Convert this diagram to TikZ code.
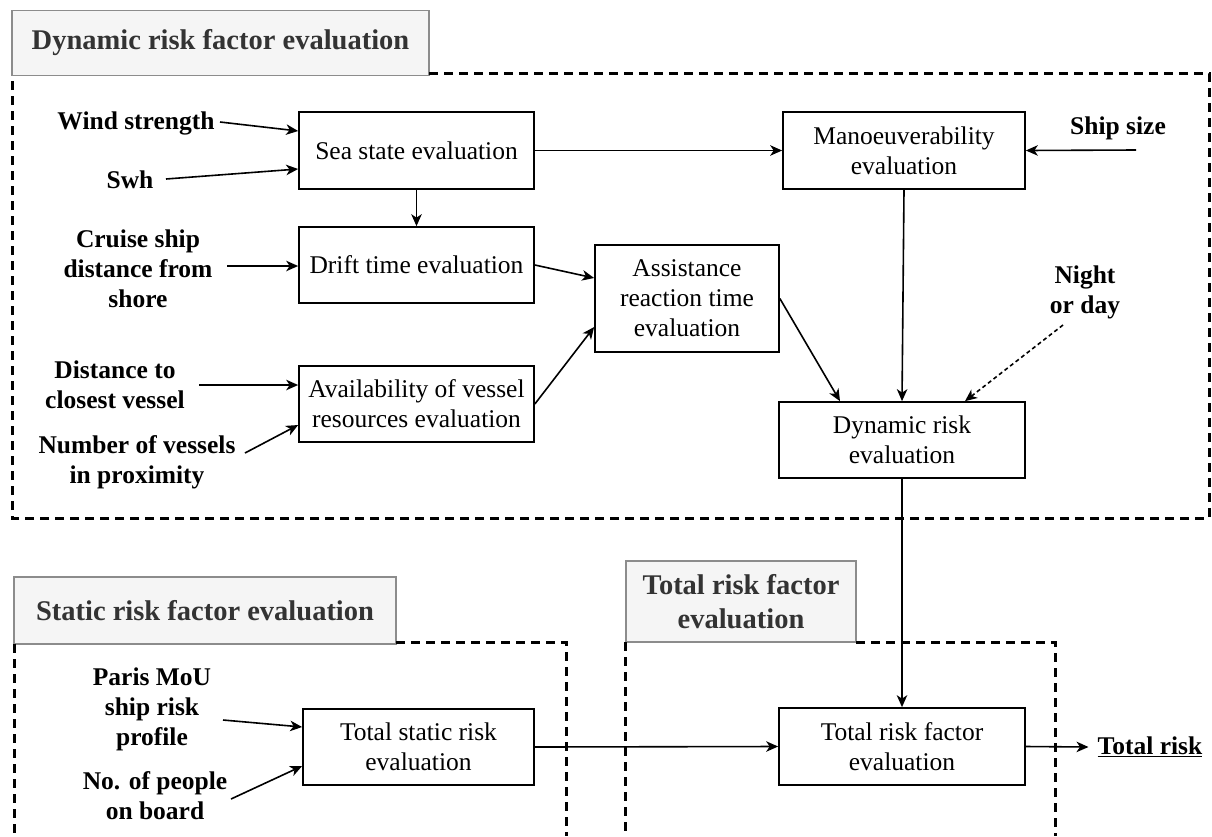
\documentclass[tikz,border=0pt]{standalone}
\usepackage{fontspec}
\setmainfont{Liberation Serif}
\usetikzlibrary{arrows.meta}
\definecolor{titlefill}{HTML}{F5F5F5}
\definecolor{titleline}{HTML}{8C8C8C}
\definecolor{titletext}{HTML}{333333}

\begin{document}
\begin{tikzpicture}[x=1pt,y=-1pt,
  proc/.style={draw, line width=1.7pt, rectangle, inner sep=2pt, align=center,
    font=\fontsize{25.5}{30}\selectfont},
  inlabel/.style={inner sep=0pt, align=center, font=\fontsize{25.5}{30}\selectfont\bfseries},
  heading/.style={draw=titleline, fill=titlefill, line width=1.4pt, text=titletext,
    align=center, inner sep=0pt, font=\fontsize{28.5}{34}\selectfont\bfseries},
  frame/.style={line width=3pt, dash pattern=on 9pt off 6pt},
  link/.style={line width=1.6pt, -{Stealth[length=12pt,width=10.5pt,inset=3.5pt]}},
  softlink/.style={link, dash pattern=on 4pt off 3pt},
]
\path[use as bounding box] (0,0) rectangle (1212,836);

% ---------- dynamic risk factor group ----------
\node[heading, minimum width=417pt, minimum height=65pt] (dynTitle) at (220.5,43)
  {Dynamic risk factor evaluation};
\draw[frame] (429,73) -- (1209,73) -- (1209,518) -- (12,518) -- (12,76);

\node[proc, minimum width=235pt, minimum height=77pt] (sea) at (416.5,150.5) {Sea state evaluation};
\node[proc, minimum width=235pt, minimum height=76pt] (drift) at (416.5,265) {Drift time evaluation};
\node[proc, minimum width=235pt, minimum height=76pt] (avail) at (416.5,404)
  {Availability of vessel\\resources evaluation};
\node[proc, minimum width=184pt, minimum height=107pt] (assist) at (687,298.5)
  {Assistance\\reaction time\\evaluation};
\node[proc, minimum width=242pt, minimum height=77pt] (manoeuv) at (904,150.5)
  {Manoeuverability\\evaluation};
\node[proc, minimum width=246pt, minimum height=76pt] (dynrisk) at (902,440)
  {Dynamic risk\\evaluation};

\node[inlabel] (wind) at (136,123) {Wind strength};
\node[inlabel] (swh) at (130,180) {Swh};
\node[inlabel] (cruise) at (138,269) {Cruise ship\\distance from\\shore};
\node[inlabel] (closest) at (115,385) {Distance to\\closest vessel};
\node[inlabel] (numves) at (137,462) {Number of vessels\\in proximity};
\node[inlabel] (shipsize) at (1118,128) {Ship size};
\node[inlabel] (night) at (1085,292) {Night\\or day};

\coordinate (windTail) at (220,122);
\coordinate (swhTail) at (166,179);
\coordinate (cruiseTail) at (227,266);
\coordinate (closestTail) at (199,385);
\coordinate (numvesTail) at (245,453);
\coordinate (shipsizeTail) at (1136,150);
\coordinate (nightTail) at (1063,325);

\draw[link] (windTail) -- ([yshift=19.5pt]sea.west);
\draw[link] (swhTail) -- ([yshift=-18.5pt]sea.west);
\draw[link] (cruiseTail) -- ([yshift=-1pt]drift.west);
\draw[link] (closestTail) -- ([yshift=19pt]avail.west);
\draw[link] (numvesTail) -- ([yshift=-21pt]avail.west);
\draw[link] (shipsizeTail) -- (manoeuv.east);
\draw[softlink] (nightTail) -- ([xshift=63pt]dynrisk.north);

\draw[link] (sea.east) -- (manoeuv.west);
\draw[link] (sea.south) -- (drift.north);
\draw[link] (drift.east) -- ([yshift=20.5pt]assist.west);
\draw[link] (avail.east) -- ([yshift=-28.5pt]assist.west);
\draw[link] (assist.east) -- ([xshift=-62pt]dynrisk.north);
\draw[link] (manoeuv.south) -- (dynrisk.north);

% ---------- static risk factor group ----------
\node[heading, minimum width=382pt, minimum height=67pt] (staticTitle) at (205,610.5)
  {Static risk factor evaluation};
\draw[frame] (396,642) -- (566,642) -- (566,836);
\draw[frame] (14,644) -- (14,836);

\node[proc, minimum width=231pt, minimum height=76pt] (static) at (418.5,747)
  {Total static risk\\evaluation};
\node[inlabel] (paris) at (152,709) {Paris MoU\\ship risk\\profile};
\node[inlabel] (people) at (155,796) {No. of people\\on board};
\coordinate (parisTail) at (223,720);
\coordinate (peopleTail) at (231,799);
\draw[link] (parisTail) -- ([yshift=20pt]static.west);
\draw[link] (peopleTail) -- ([yshift=-19pt]static.west);

% ---------- total risk factor group ----------
\node[heading, minimum width=230pt, minimum height=81pt] (totalTitle) at (741,601.5)
  {Total risk factor\\evaluation};
\draw[frame] (856,642) -- (1055,642) -- (1055,836);
\draw[frame] (625,642) -- (625,836);

\node[proc, minimum width=246pt, minimum height=77pt] (total) at (902,746.5)
  {Total risk factor\\evaluation};
\node[inlabel] (totalrisk) at (1150,747) {\underline{Total risk}};

\draw[link] (dynrisk.south) -- (total.north);
\draw[link] (static.east) -- (total.west);
\draw[link] (total.east) -- ([xshift=-9pt]totalrisk.west);
\end{tikzpicture}
\end{document}
